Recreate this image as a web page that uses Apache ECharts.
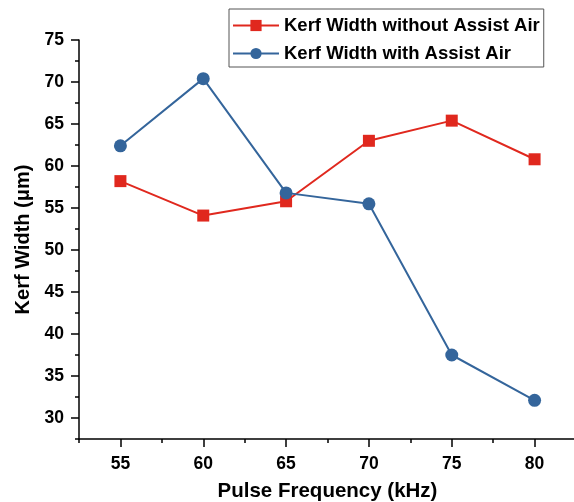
<!DOCTYPE html>
<html>
<head>
<meta charset="utf-8">
<script src="https://cdn.jsdelivr.net/npm/echarts@6/dist/echarts.min.js"></script>
<style>
  html, body { margin: 0; padding: 0; background: #fff; }
  #chart { width: 574px; height: 502px; }
</style>
</head>
<body>
<div id="chart"></div>
<script>
// Pulse frequency (kHz)
const frequencies = [55, 60, 65, 70, 75, 80];
// Kerf width (µm)
const kerfWithoutAir = [58.2, 54.1, 55.8, 63.0, 65.4, 60.8];
const kerfWithAir = [62.4, 70.4, 56.8, 55.5, 37.5, 32.1];

// Axis ticks
const xMajorTicks = [55, 60, 65, 70, 75, 80];
const xMinorTicks = [52.5, 57.5, 62.5, 67.5, 72.5, 77.5, 82.5];
const yMajorTicks = [30, 35, 40, 45, 50, 55, 60, 65, 70, 75];
const yMinorTicks = [27.5, 32.5, 37.5, 42.5, 47.5, 52.5, 57.5, 62.5, 67.5, 72.5];

const FONT = '"Liberation Sans", Arial, sans-serif';
const RED = '#e0281e';
const BLUE = '#34659b';

const pairs = (xs, ys) => xs.map((x, i) => [x, ys[i]]);

const baseAxis = {
  type: 'value',
  splitLine: { show: false },
  axisLine: { show: true, onZero: false, lineStyle: { color: '#000', width: 1.5 } }
};

const xRange = { min: 52.5, max: 82.5 };
const yRange = { min: 27.5, max: 75 };

const chart = echarts.init(document.getElementById('chart'), null, { renderer: 'canvas' });
chart.setOption({
  animation: false,
  backgroundColor: '#fff',
  grid: { left: 79, right: -2, top: 40, bottom: 63, containLabel: false, outerBoundsMode: 'none' },
  legend: {
    orient: 'vertical',
    left: 229,
    top: 9,
    padding: [7, 4, 4, 3],
    itemGap: 9,
    itemWidth: 46,
    itemHeight: 14,
    borderColor: '#555',
    borderWidth: 1,
    textStyle: { fontFamily: FONT, fontWeight: 'bold', fontSize: 18.5, color: '#000' },
    data: ['Kerf Width without Assist Air', 'Kerf Width with Assist Air']
  },
  xAxis: [
    Object.assign({}, baseAxis, xRange, {
      position: 'bottom',
      name: 'Pulse Frequency (kHz)',
      nameLocation: 'middle',
      nameGap: 42,
      nameTextStyle: { fontFamily: FONT, fontWeight: 'bold', fontSize: 20.5, color: '#000' },
      axisTick: { show: true, inside: false, length: 8, lineStyle: { color: '#000', width: 1.5 }, customValues: xMajorTicks },
      axisLabel: { fontFamily: FONT, fontWeight: 'bold', fontSize: 17.5, color: '#000', margin: 16, customValues: xMajorTicks }
    }),
    Object.assign({}, baseAxis, xRange, {
      position: 'bottom',
      axisLine: { show: false },
      axisTick: { show: true, inside: false, length: 4, lineStyle: { color: '#000', width: 1.5 }, customValues: xMinorTicks },
      axisLabel: { show: false }
    })
  ],
  yAxis: [
    Object.assign({}, baseAxis, yRange, {
      position: 'left',
      name: 'Kerf Width (μm)',
      nameLocation: 'middle',
      nameGap: 46,
      nameTextStyle: { fontFamily: FONT, fontWeight: 'bold', fontSize: 20, color: '#000' },
      axisTick: { show: true, inside: false, length: 8, lineStyle: { color: '#000', width: 1.5 }, customValues: yMajorTicks },
      axisLabel: { fontFamily: FONT, fontWeight: 'bold', fontSize: 17.5, color: '#000', margin: 15, customValues: yMajorTicks }
    }),
    Object.assign({}, baseAxis, yRange, {
      position: 'left',
      axisLine: { show: false },
      axisTick: { show: true, inside: false, length: 4, lineStyle: { color: '#000', width: 1.5 }, customValues: yMinorTicks },
      axisLabel: { show: false }
    })
  ],
  series: [
    {
      name: 'Kerf Width without Assist Air',
      type: 'line',
      xAxisIndex: 0,
      yAxisIndex: 0,
      data: pairs(frequencies, kerfWithoutAir),
      symbol: 'rect',
      symbolSize: 12,
      color: RED,
      lineStyle: { color: RED, width: 2 },
      itemStyle: { color: RED }
    },
    {
      name: 'Kerf Width with Assist Air',
      type: 'line',
      xAxisIndex: 0,
      yAxisIndex: 0,
      data: pairs(frequencies, kerfWithAir),
      symbol: 'circle',
      symbolSize: 13,
      color: BLUE,
      lineStyle: { color: BLUE, width: 2 },
      itemStyle: { color: BLUE },
      z: 3
    }
  ]
});
</script>
</body>
</html>
